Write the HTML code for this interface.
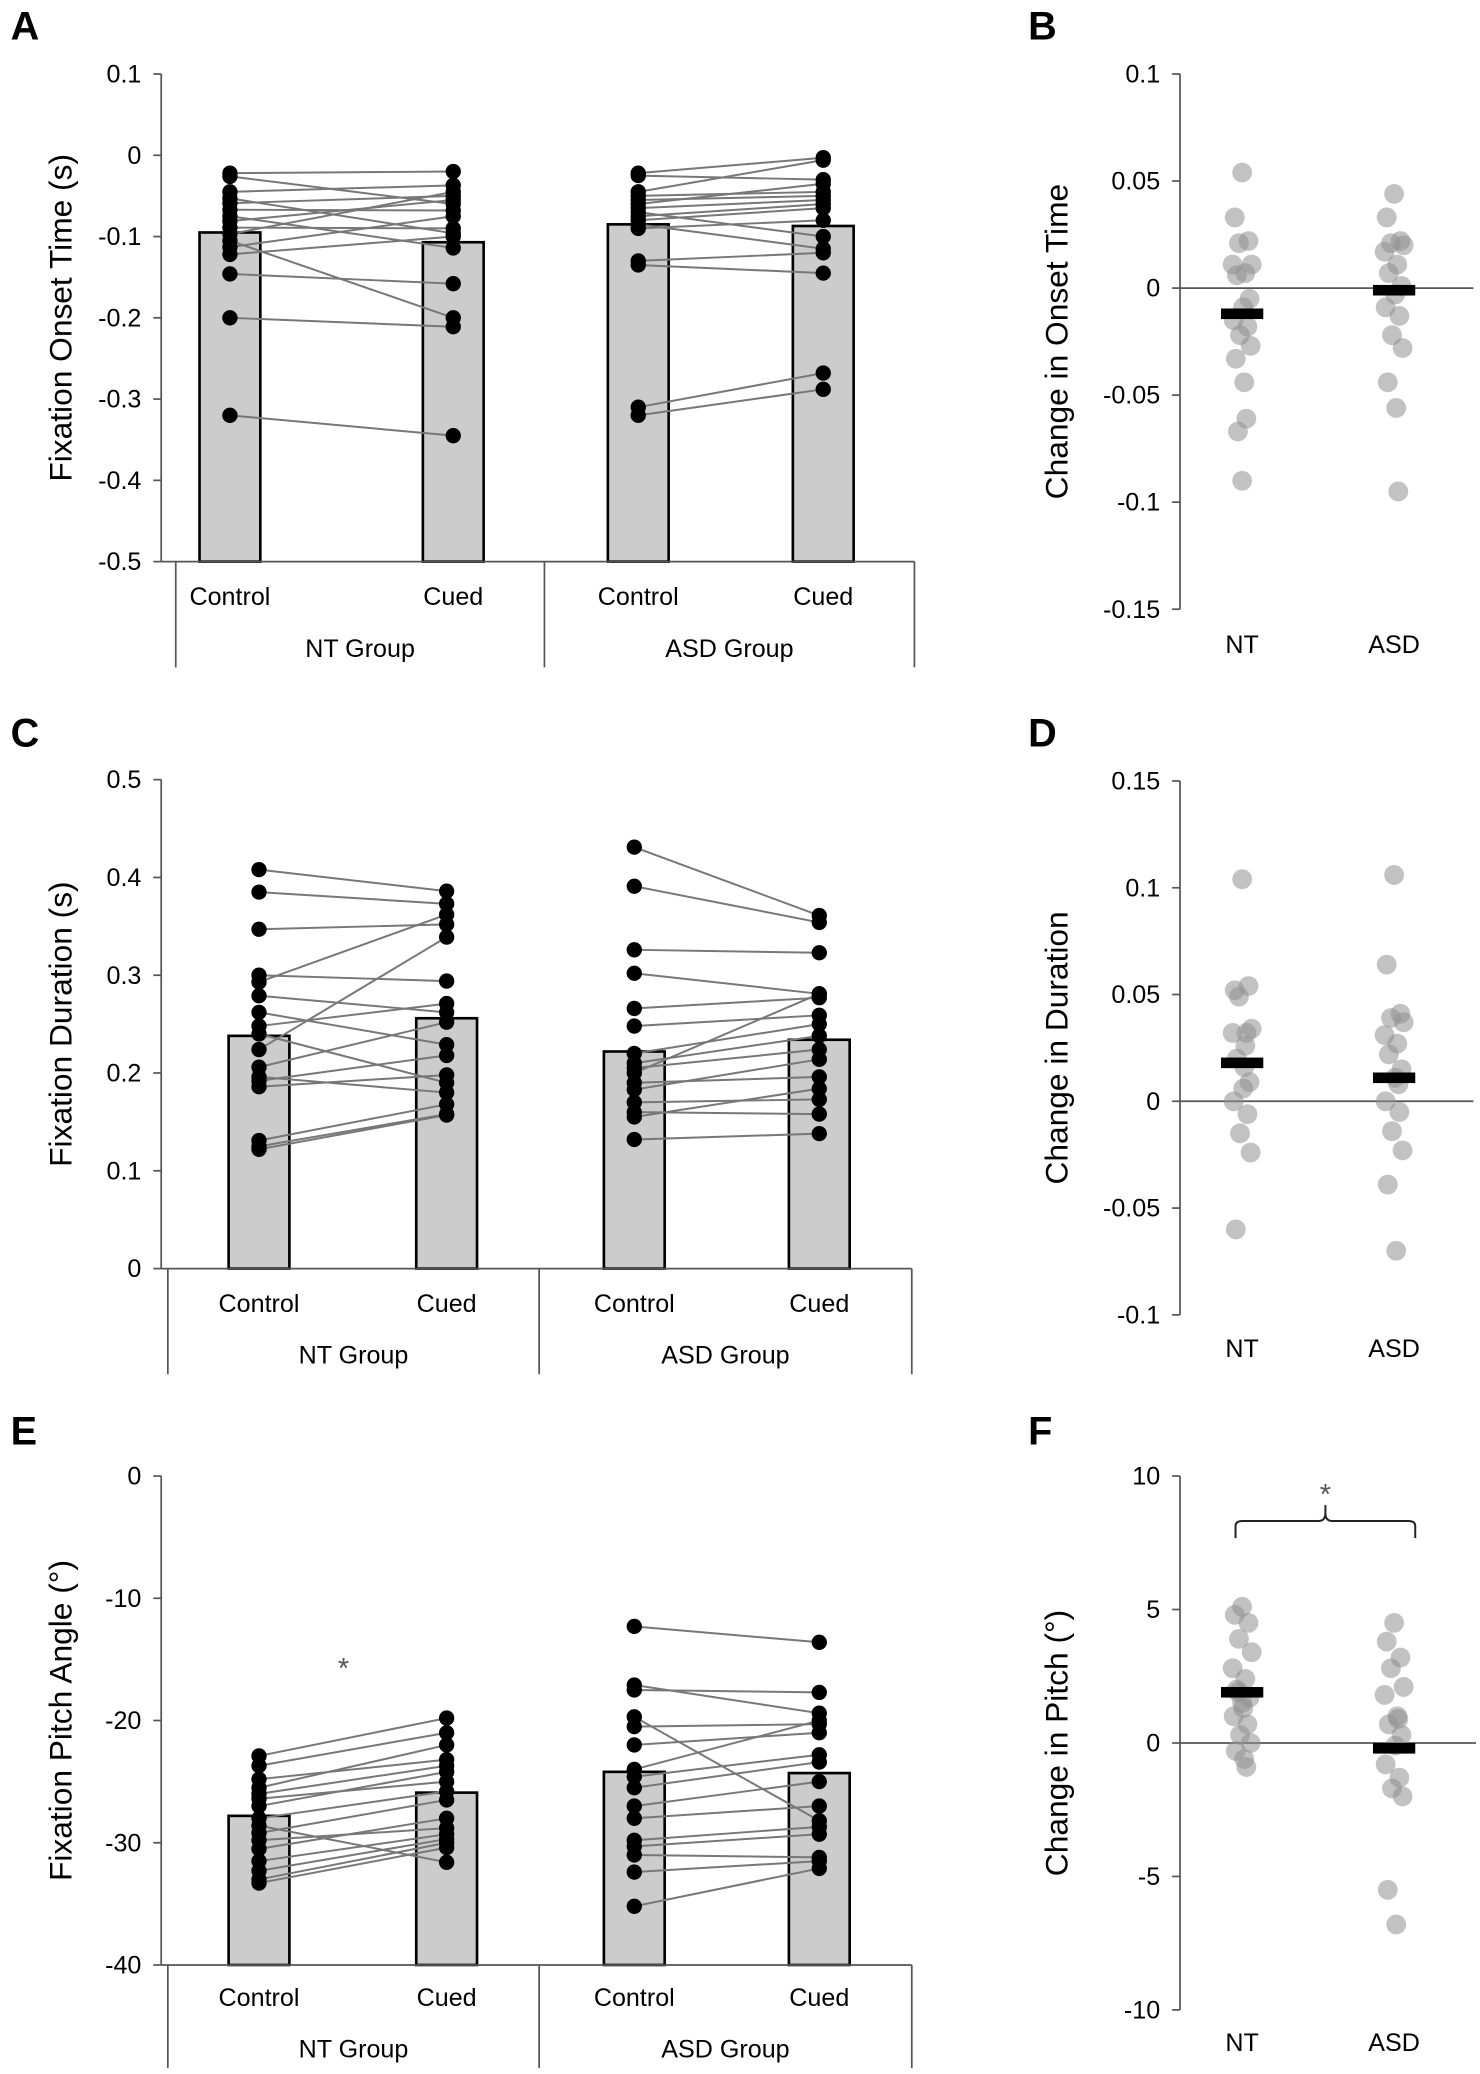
<!DOCTYPE html>
<html><head><meta charset="utf-8"><style>
html,body{margin:0;padding:0;background:#fff;}
svg{display:block;font-family:"Liberation Sans",Arial,sans-serif;}
</style></head><body>
<svg id="fig" width="1480" height="2074" viewBox="0 0 1120 1569.5" xmlns="http://www.w3.org/2000/svg"></svg>
<script>
// ---------- DATA ----------
const categories = ["Control","Cued"];
const groups = ["NT Group","ASD Group"];
const diffCats = ["NT","ASD"];

// Panel A: onset time (s)
const aNTControl = [-0.022,-0.026,-0.045,-0.053,-0.059,-0.067,-0.075,-0.081,-0.089,-0.097,-0.105,-0.113,-0.122,-0.146,-0.200,-0.320];
const aNTCued    = [-0.020,-0.060,-0.037,-0.096,-0.050,-0.068,-0.114,-0.055,-0.090,-0.045,-0.200,-0.075,-0.100,-0.158,-0.211,-0.345];
const aASDControl= [-0.022,-0.025,-0.045,-0.050,-0.055,-0.060,-0.065,-0.070,-0.075,-0.080,-0.085,-0.090,-0.130,-0.135,-0.310,-0.320];
const aASDCued   = [-0.003,-0.030,-0.006,-0.045,-0.050,-0.035,-0.055,-0.100,-0.060,-0.065,-0.115,-0.080,-0.120,-0.145,-0.268,-0.288];
const aBars = [-0.095,-0.107,-0.085,-0.087];
const aTicks = [0.1,0,-0.1,-0.2,-0.3,-0.4,-0.5];
const aTickLabels = ["0.1","0","-0.1","-0.2","-0.3","-0.4","-0.5"];

// Panel B: change in onset
const bNT = [0.054,0.033,0.022,0.021,0.011,0.011,0.007,0.006,-0.005,-0.009,-0.015,-0.018,-0.022,-0.027,-0.033,-0.044,-0.061,-0.067,-0.090];
const bASD = [0.044,0.033,0.022,0.021,0.020,0.017,0.011,0.007,0.001,-0.003,-0.009,-0.013,-0.022,-0.028,-0.044,-0.056,-0.095];
const bMeans = [-0.012,-0.001];
const bTicks = [0.1,0.05,0,-0.05,-0.1,-0.15];
const bTickLabels = ["0.1","0.05","0","-0.05","-0.1","-0.15"];

// Panel C: duration (s)
const cNTControl = [0.408,0.385,0.347,0.300,0.293,0.279,0.262,0.248,0.240,0.224,0.206,0.196,0.192,0.186,0.131,0.125,0.122];
const cNTCued    = [0.386,0.373,0.352,0.294,0.362,0.262,0.229,0.271,0.190,0.339,0.252,0.180,0.218,0.198,0.168,0.158,0.157];
const cASDControl= [0.431,0.391,0.326,0.302,0.266,0.248,0.220,0.210,0.205,0.200,0.190,0.183,0.170,0.160,0.155,0.132];
const cASDCued   = [0.361,0.354,0.323,0.281,0.277,0.259,0.250,0.238,0.224,0.281,0.196,0.214,0.173,0.158,0.184,0.138];
const cBars = [0.238,0.256,0.222,0.234];
const cTicks = [0.5,0.4,0.3,0.2,0.1,0];
const cTickLabels = ["0.5","0.4","0.3","0.2","0.1","0"];

// Panel D: change in duration
const dNT = [0.104,0.052,0.054,0.049,0.034,0.032,0.026,0.020,0.009,0.006,0.000,-0.006,-0.015,-0.024,-0.060,0.016,0.032];
const dASD = [0.106,0.064,0.041,0.039,0.037,0.031,0.027,0.022,0.015,0.011,0.000,-0.005,-0.014,-0.023,-0.039,-0.070,0.008];
const dMeans = [0.018,0.011];
const dTicks = [0.15,0.1,0.05,0,-0.05,-0.1];
const dTickLabels = ["0.15","0.1","0.05","0","-0.05","-0.1"];

// Panel E: pitch angle (deg)
const eNTControl = [-22.9,-23.7,-24.8,-25.5,-26.0,-26.4,-27.0,-28.0,-28.6,-29.2,-29.8,-30.5,-31.5,-32.3,-33.0,-33.3];
const eNTCued    = [-19.8,-21.0,-23.2,-22.0,-23.7,-25.0,-24.2,-25.8,-31.6,-26.5,-28.8,-28.0,-29.3,-29.7,-30.0,-30.4];
const eASDControl= [-12.3,-17.1,-17.5,-19.7,-20.5,-22.0,-24.0,-24.6,-25.5,-27.0,-28.0,-29.8,-30.3,-31.0,-32.4,-35.2];
const eASDCued   = [-13.6,-19.4,-17.7,-28.2,-20.3,-21.0,-20.0,-22.8,-23.4,-25.0,-27.0,-28.7,-29.3,-31.2,-31.5,-32.1];
const eBars = [-27.8,-25.9,-24.2,-24.3];
const eTicks = [0,-10,-20,-30,-40];
const eTickLabels = ["0","-10","-20","-30","-40"];

// Panel F: change in pitch
const fNT = [5.1,4.8,4.5,3.9,3.4,2.8,2.4,2.0,1.7,1.3,1.0,0.7,0.3,0.0,-0.3,-0.6,-0.9,1.9,1.5];
const fASD = [4.5,3.8,3.2,2.8,2.1,1.8,1.0,0.7,0.3,-0.1,-0.8,-1.3,-1.7,-2.0,-5.5,-6.8,0.9];
const fMeans = [1.9,-0.2];
const fTicks = [10,5,0,-5,-10];
const fTickLabels = ["10","5","0","-5","-10"];

// ---------- DRAWING ----------
const NS="http://www.w3.org/2000/svg";
const svg=document.getElementById('fig');
function mk(tag,attrs,parent){const e=document.createElementNS(NS,tag);for(const k in attrs)e.setAttribute(k,attrs[k]);(parent||svg).appendChild(e);return e;}
function txt(s,x,y,size,anchor,parent,extra){const t=mk('text',Object.assign({x:x,y:y,'font-size':size,'text-anchor':anchor||'middle',fill:'#000'},extra||{}),parent);t.textContent=s;return t;}
function scale(d0,d1,r0,r1){return v=>r0+(v-d0)*(r1-r0)/(d1-d0);}

function yAxis(g,x,y,ticks,labels,top,bottom){
  const ax=mk('line',{x1:x,y1:top,x2:x,y2:bottom,stroke:'#555','stroke-width':1.3},g);
  
  
  ticks.forEach((t,i)=>{
    mk('line',{x1:x-6,y1:y(t),x2:x,y2:y(t),stroke:'#555','stroke-width':1.3},g);
    const l=txt(labels[i],x-15,y(t)+6.5,19,'end',g);
    
    
  });
}

function barPanel(name,letter,letterY,title,ticks,labels,ymin,ymax,ytop,ybot,centers,seps,sepBottom,catY,grpY,data,bars){
  const g=mk('g',{});
  
  
  const y=scale(ymin,ymax,ybot,ytop);
  const L=txt(letter,8,letterY,30,'start',g,{'font-weight':'bold'});
  
  
  const T=txt(title,0,0,24,'middle',g,{transform:`translate(54,${(ytop+ybot)/2}) rotate(-90)`});
  
  
  bars.forEach((b,i)=>{
    const r=mk('rect',{x:centers[i]-23,y:y(b),width:46,height:ybot-y(b),fill:'#cccccc',stroke:'#000','stroke-width':2},g);
    
    
  });
  [[0,1],[2,3]].forEach(([a,b])=>{
    const A=data[a],B=data[b];
    A.forEach((v,k)=>{
      const ln=mk('line',{x1:centers[a],y1:y(v),x2:centers[b],y2:y(B[k]),stroke:'#777','stroke-width':1.5},g);
      
      
    });
  });
  data.forEach((arr,i)=>arr.forEach(v=>{
    const c=mk('circle',{cx:centers[i],cy:y(v),r:5.8,fill:'#000'},g);
    
    
  }));
  yAxis(g,122,y,ticks,labels,ytop,ybot);
  mk('line',{x1:122,y1:ybot,x2:seps[2],y2:ybot,stroke:'#555','stroke-width':1.3},g);
  seps.forEach(sx=>mk('line',{x1:sx,y1:ybot,x2:sx,y2:sepBottom,stroke:'#555','stroke-width':1.3},g));
  centers.forEach((cx,i)=>{
    const l=txt(categories[i%2],cx,catY,19,'middle',g);
    
    
  });
  groups.forEach((gr,i)=>{
    const l=txt(gr,(seps[i]+seps[i+1])/2,grpY,19,'middle',g);
    
    
  });
  return {g,y};
}

function jitter(k){return [0,-7,6,-3,9,-9,3,-5,7,1,-8,5,-2,8,-6,2,4,-4,0][k%19];}
function diffPanel(name,letter,letterY,title,ticks,labels,ymin,ymax,ytop,ybot,zeroEnd,labY,nt,asd,means){
  const g=mk('g',{});
  
  
  const y=scale(ymin,ymax,ybot,ytop);
  const L=txt(letter,778,letterY,30,'start',g,{'font-weight':'bold'});
  
  
  const T=txt(title,0,0,24,'middle',g,{transform:`translate(808,${(ytop+ybot)/2}) rotate(-90)`});
  
  
  yAxis(g,893,y,ticks,labels,ytop,ybot);
  const z=mk('line',{x1:893,y1:y(0),x2:zeroEnd,y2:y(0),stroke:'#555','stroke-width':1.3},g);
  
  
  const cx=[940,1055];
  [nt,asd].forEach((arr,i)=>arr.forEach((v,k)=>{
    const c=mk('circle',{cx:cx[i]+jitter(k)*0.8,cy:y(v),r:7.5,fill:'#909090','fill-opacity':0.55},g);
    
    
  }));
  means.forEach((m,i)=>{
    const r=mk('rect',{x:cx[i]-16,y:y(m)-4,width:32,height:8,fill:'#000'},g);
    
    
  });
  diffCats.forEach((c,i)=>{
    const l=txt(c,cx[i],labY,19,'middle',g);
    
    
  });
  return {g,y};
}

barPanel('panel-a-onset','A',30,'Fixation Onset Time (s)',aTicks,aTickLabels,-0.5,0.1,56,425,[174,343,483,623],[133,412,692],505,458,497,[aNTControl,aNTCued,aASDControl,aASDCued],aBars);
diffPanel('panel-b-onset-change','B',30,'Change in Onset Time',bTicks,bTickLabels,-0.15,0.1,56,461,1115,494,bNT,bASD,bMeans);
barPanel('panel-c-duration','C',565,'Fixation Duration (s)',cTicks,cTickLabels,0,0.5,590,960,[196,338,480,620],[127,408,690],1040,993,1032,[cNTControl,cNTCued,cASDControl,cASDCued],cBars);
diffPanel('panel-d-duration-change','D',565,'Change in Duration',dTicks,dTickLabels,-0.1,0.15,591,995,1115,1027,dNT,dASD,dMeans);
const E=barPanel('panel-e-pitch','E',1093,'Fixation Pitch Angle (°)',eTicks,eTickLabels,-40,0,1117,1487,[196,338,480,620],[127,408,690],1565,1518,1557,[eNTControl,eNTCued,eASDControl,eASDCued],eBars);
const eStar=txt('*',260,1270,22,'middle',E.g,{fill:'#555'});


const F=diffPanel('panel-f-pitch-change','F',1093,'Change in Pitch (°)',fTicks,fTickLabels,-10,10,1117,1521,1117,1552,fNT,fASD,fMeans);
const br=mk('path',{d:'M935,1164 L935,1155 Q935,1151 940,1151 L998,1151 Q1003,1151 1003,1145 L1003,1139 M1003,1145 Q1003,1151 1008,1151 L1066,1151 Q1071,1151 1071,1155 L1071,1164',fill:'none',stroke:'#222','stroke-width':1.5},F.g);


const fStar=txt('*',1003,1138,22,'middle',F.g,{fill:'#555'});


</script>
</body></html>
